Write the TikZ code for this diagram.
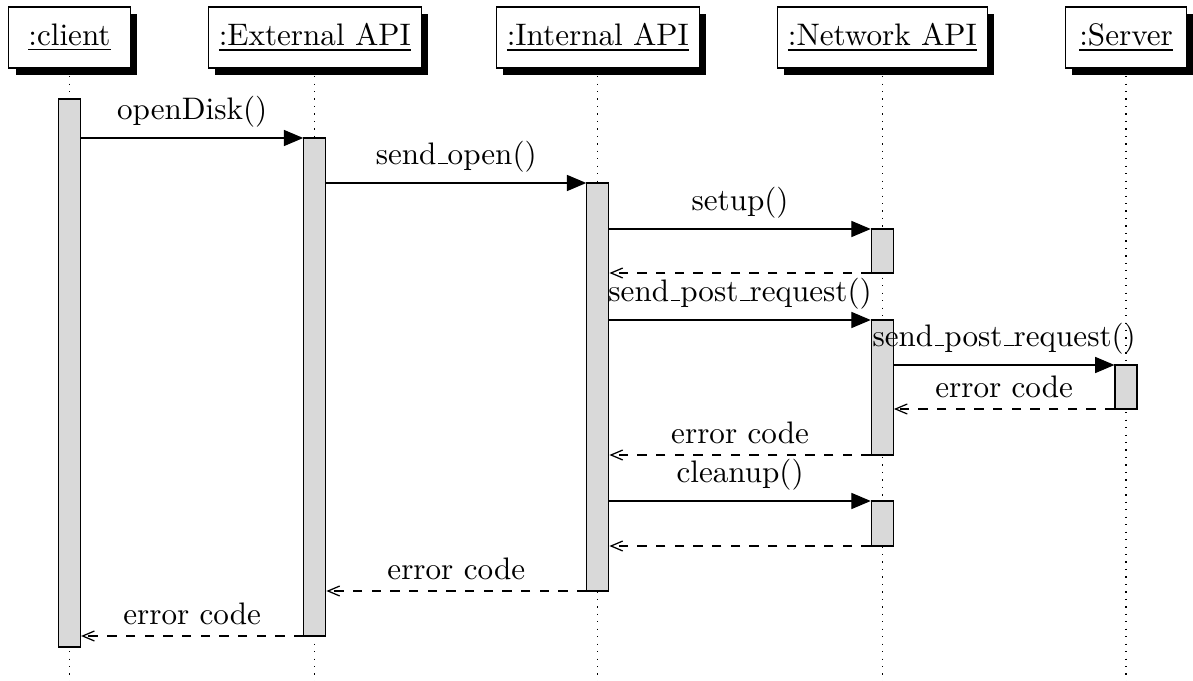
\documentclass[tikz,border=0pt]{standalone}
\usetikzlibrary{arrows,shadows,positioning,fit}
\newcommand{\usbar}{\leavevmode\kern.06em\vbox{\hrule width.3em}}

\begin{document}
\begin{tikzpicture}[x=0.3214pt,y=-0.3214pt,node distance=24.75pt]
  \tikzstyle{inst}=[draw, fill=white, minimum width=39pt, minimum height=19.6pt, inner sep=3.33pt,
                    drop shadow={opacity=1,fill=black,shadow xshift=2.25pt,shadow yshift=-2.25pt}]
  \tikzstyle{act}=[draw, fill=gray!30, inner xsep=3.53pt, inner ysep=0pt]
  \tikzstyle{call}=[->,>=triangle 45]
  \tikzstyle{ret}=[->,>=angle 45,dashed]
  \useasboundingbox (0,0) rectangle (1193,681);

  % instances
  \node[inst] (client) at (69.5,37.5) {\underline{:client}};
  \node[inst] (extapi) [right=of client] {\underline{:External API}};
  \node[inst] (intapi) [right=23.8pt of extapi] {\underline{:Internal API}};
  \node[inst] (netapi) [right=of intapi] {\underline{:Network API}};
  \node[inst] (server) [right=of netapi] {\underline{:Server}};

  % time steps
  \foreach \t/\y in {0/99,1/138,2/183,3/229,4/273,5/320,6/365,7/409,8/455,9/501,10/546,11/591,12/636,13/647}
    \coordinate (t\t) at (0,\y);
  \coordinate (end) at (0,681);

  % lifelines
  \foreach \n in {client,extapi,intapi,netapi,server}
    \draw[dotted] (\n.south) -- (\n.south |- end);

  % activations
  \node[act, fit=(client.south |- t0) (client.south |- t13)] (clientbar) {};
  \node[act, fit=(extapi.south |- t1) (extapi.south |- t12)] (extbar) {};
  \node[act, fit=(intapi.south |- t2) (intapi.south |- t11)] (intbar) {};
  \node[act, fit=(netapi.south |- t3) (netapi.south |- t4)] (setbar) {};
  \node[act, fit=(netapi.south |- t5) (netapi.south |- t8)] (postbar) {};
  \node[act, fit=(server.south |- t6) (server.south |- t7)] (srvbar) {};
  \node[act, fit=(netapi.south |- t9) (netapi.south |- t10)] (cleanbar) {};

  % messages
  \draw[call] (clientbar.east |- t1) -- node[above] {openDisk()} (extbar.west |- t1);
  \draw[call] (extbar.east |- t2) -- node[above] {send\usbar open()} (intbar.west |- t2);
  \draw[call] (intbar.east |- t3) -- node[above] {setup()} (setbar.west |- t3);
  \draw[ret] (setbar.west |- t4) -- (intbar.east |- t4);
  \draw[call] (intbar.east |- t5) -- node[above] {send\usbar post\usbar request()} (postbar.west |- t5);
  \draw[call] (postbar.east |- t6) -- node[above] {send\usbar post\usbar request()} (srvbar.west |- t6);
  \draw[ret] (srvbar.west |- t7) -- node[above] {error code} (postbar.east |- t7);
  \draw[ret] (postbar.west |- t8) -- node[above] {error code} (intbar.east |- t8);
  \draw[call] (intbar.east |- t9) -- node[above] {cleanup()} (cleanbar.west |- t9);
  \draw[ret] (cleanbar.west |- t10) -- (intbar.east |- t10);
  \draw[ret] (intbar.west |- t11) -- node[above] {error code} (extbar.east |- t11);
  \draw[ret] (extbar.west |- t12) -- node[above] {error code} (clientbar.east |- t12);
\end{tikzpicture}
\end{document}
